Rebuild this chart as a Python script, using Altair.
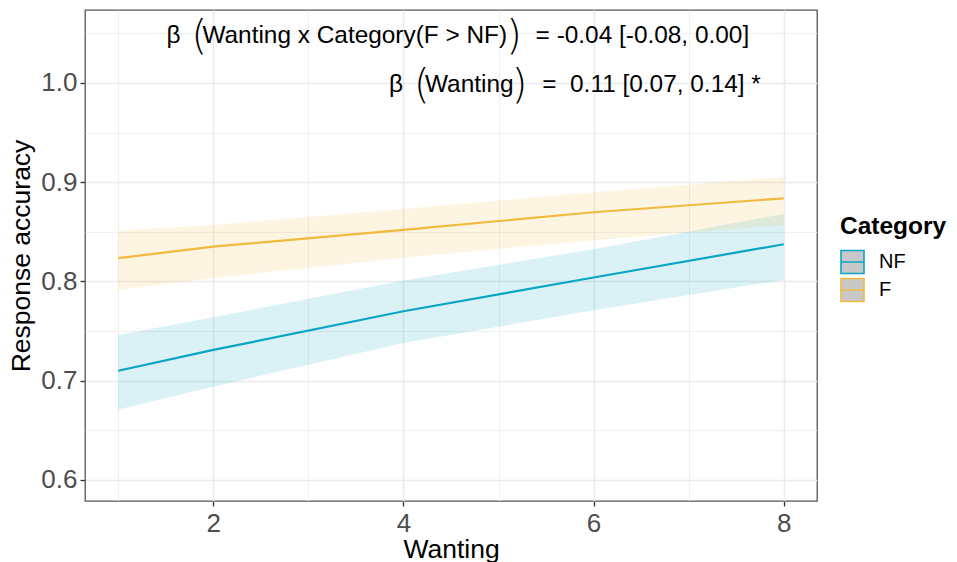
import altair as alt
import pandas as pd

# ---- data ----
wanting = [1, 2, 4, 6, 8]
nf_fit = [0.710, 0.731, 0.770, 0.804, 0.8375]
nf_lo = [0.671, 0.694, 0.738, 0.771, 0.8015]
nf_hi = [0.746, 0.764, 0.801, 0.8325, 0.868]
f_fit = [0.8235, 0.835, 0.852, 0.8697, 0.8838]
f_lo = [0.7914, 0.8035, 0.824, 0.8415, 0.857]
f_hi = [0.851, 0.857, 0.873, 0.890, 0.905]

categories = ["NF", "F"]
colors = ["#0AA5C4", "#F2BA3C"]

x_ticks = [1, 2, 3, 4, 5, 6, 7, 8]
y_ticks = [0.6, 0.65, 0.7, 0.75, 0.8, 0.85, 0.9, 0.95, 1.0, 1.05]

# annotation pieces (data coordinates)
ann_text = ["β", "(", "Wanting x Category(F > NF)", ")", "= -0.04 [-0.08, 0.00]",
            "β", "(", "Wanting", ")", "=\u00a0\u00a00.11 [0.07, 0.14] *"]
ann_kind = ["t", "p", "t", "p", "t", "t", "p", "t", "p", "t"]
ann_x = [1.507, 1.769, 1.885, 5.080, 5.390, 3.848, 4.110, 4.226, 5.140, 5.460]
ann_y = [1.047, 1.047, 1.047, 1.047, 1.047, 0.998, 0.998, 0.998, 0.998, 0.998]

rows = []
for i, w in enumerate(wanting):
    rows.append(dict(Wanting=w, Category="NF", fit=nf_fit[i], lo=nf_lo[i], hi=nf_hi[i]))
    rows.append(dict(Wanting=w, Category="F", fit=f_fit[i], lo=f_lo[i], hi=f_hi[i]))
df = pd.DataFrame(rows)
df["Band"] = df["Category"]

ann = pd.DataFrame(dict(x=ann_x, y=ann_y, text=ann_text, kind=ann_kind))

xs = alt.Scale(domain=[0.65, 8.35], nice=False, zero=False)
ys = alt.Scale(domain=[0.5788, 1.0735], nice=False, zero=False)
cs = alt.Scale(domain=categories, range=colors)

x_major = "datum.value % 2 == 0"
y_major = "abs(round(datum.value * 10) - datum.value * 10) < 0.001"

x_axis = alt.Axis(
    values=x_ticks,
    labelExpr=f"{x_major} ? format(datum.value, 'd') : ''",
    gridWidth=alt.condition(x_major, alt.value(1.6), alt.value(0.8)),
    tickOpacity=alt.condition(x_major, alt.value(1), alt.value(0)),
    labelPadding=4,
    titlePadding=0,
)
y_axis = alt.Axis(
    values=y_ticks,
    labelExpr=f"{y_major} ? format(datum.value, '.1f') : ''",
    gridWidth=alt.condition(y_major, alt.value(1.6), alt.value(0.8)),
    tickOpacity=alt.condition(y_major, alt.value(1), alt.value(0)),
    labelPadding=3,
    titlePadding=5,
)

legend = alt.Legend(
    title="Category",
    symbolType="M-1,-1H1V1H-1Z M-1,0H1",
    symbolSize=529,
    symbolFillColor="#C8C8C8",
    symbolStrokeWidth=1.6,
    symbolOpacity=1,
)
base = alt.Chart(df)

band = base.mark_area(opacity=0.15).encode(
    x=alt.X("Wanting:Q", scale=xs, axis=x_axis, title="Wanting"),
    y=alt.Y("lo:Q", scale=ys, axis=y_axis, title="Response accuracy"),
    y2="hi:Q",
    fill=alt.Fill("Band:N", scale=cs, legend=None),
)

line = base.mark_line(strokeWidth=2.2).encode(
    x=alt.X("Wanting:Q", scale=xs),
    y=alt.Y("fit:Q", scale=ys),
    color=alt.Color("Category:N", scale=cs, sort=categories, legend=legend),
)

ann_base = alt.Chart(ann)
ann_txt = ann_base.transform_filter("datum.kind == 't'").mark_text(
    align="left", baseline="middle", font="Liberation Sans", fontSize=24.4, color="black"
).encode(x=alt.X("x:Q", scale=xs), y=alt.Y("y:Q", scale=ys), text="text:N")
ann_par = ann_base.transform_filter("datum.kind == 'p'").mark_text(
    align="left", baseline="middle", font="DejaVu Sans", fontWeight=200, fontSize=40,
    color="black", dy=1
).encode(x=alt.X("x:Q", scale=xs), y=alt.Y("y:Q", scale=ys), text="text:N")

chart = (
    alt.layer(band, line, ann_txt, ann_par)
    .resolve_legend(fill="independent", color="independent")
    .properties(
        width=732, height=491,
        autosize=alt.AutoSizeParams(type="none"),
        padding={"left": 77, "top": 2, "right": 132, "bottom": 70},
        background="white",
    )
    .configure_view(stroke="#555555", strokeWidth=1.3)
    .configure_axis(
        domain=False,
        grid=True,
        gridColor="#EBEBEB",
        tickColor="#333333",
        tickSize=5,
        tickWidth=1.3,
        labelColor="#4D4D4D",
        labelFont="Liberation Sans",
        labelFontSize=26,
        titleFont="Liberation Sans",
        titleFontSize=26.5,
        titleFontWeight="normal",
        titleColor="black",
    )
    .configure_legend(
        orient="none",
        legendX=755,
        legendY=205,
        titleFont="Liberation Sans",
        titleFontSize=24.5,
        titleFontWeight="bold",
        titleColor="black",
        titlePadding=10,
        labelFont="Liberation Sans",
        labelFontSize=20,
        labelColor="black",
        labelOffset=14,
        rowPadding=-8,
    )
)

chart.save("out.html", embed_options={"renderer": "svg", "actions": False})
